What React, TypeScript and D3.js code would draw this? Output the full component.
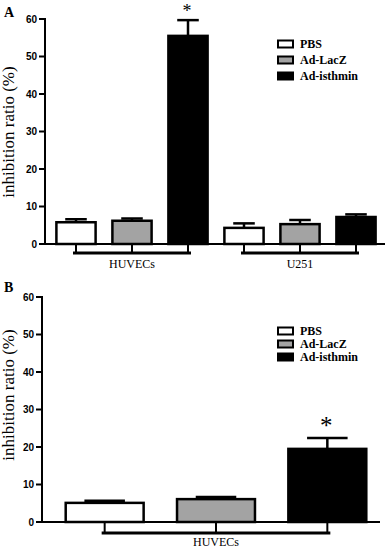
import React from 'react';
import * as d3 from 'd3';

// treatments shared by both panels
const treatments = ['PBS', 'Ad-LacZ', 'Ad-isthmin'];
const fills = ['#ffffff', '#a3a3a3', '#000000'];

// panel A: two cell lines
const groupsA = ['HUVECs', 'U251'];
const meansA = [
  [5.8, 6.2, 55.5],
  [4.3, 5.3, 7.2],
];
const errA = [
  [0.8, 0.6, 4.2],
  [1.2, 1.1, 0.7],
];
const starA = [[false, false, true], [false, false, false]];

// panel B: HUVECs only
const groupsB = ['HUVECs'];
const meansB = [[5.1, 6.1, 19.5]];
const errB = [[0.6, 0.6, 2.9]];
const starB = [[false, false, true]];

const yTicks = [0, 10, 20, 30, 40, 50, 60];

const serif = '"Liberation Serif", "Times New Roman", serif';
const sans = '"Liberation Sans", Arial, sans-serif';

type PanelProps = {
  letter: string;
  letterY: number;
  groups: string[];
  means: number[][];
  errs: number[][];
  stars: boolean[][];
  starSize: number;
  starDy: number;
  axisX: number;
  y0: number;
  y60: number;
  xEnd: number;
  xRange: [number, number];
  capFrac: number;
  bracketDrop: number;
  legendX: number;
  legendY: number;
  legendGap: number;
  labelY: number;
  titleMid: number;
};

function Panel(p: PanelProps) {
  const y = d3.scaleLinear().domain([0, 60]).range([p.y0, p.y60]);
  const keys: string[] = [];
  p.groups.forEach((g) => treatments.forEach((t) => keys.push(g + '|' + t)));
  const x = d3.scaleBand<string>().domain(keys).range(p.xRange).paddingInner(0.3).paddingOuter(0.15);
  const bw = x.bandwidth();
  const cx = (k: string) => (x(k) as number) + bw / 2;

  return (
    <g>
      <text x={4} y={p.letterY} fontFamily={serif} fontWeight="bold" fontSize={14}>{p.letter}</text>
      <text
        transform={`translate(14,${p.titleMid}) rotate(-90)`}
        textAnchor="middle"
        fontFamily={serif}
        fontSize={17}
      >inhibition ratio (%)</text>

      {/* y axis */}
      <line x1={p.axisX} x2={p.axisX} y1={p.y60 - 1} y2={p.y0} stroke="#000" strokeWidth={2} />
      {yTicks.map((t) => (
        <g key={t}>
          <line x1={p.axisX - 6} x2={p.axisX} y1={y(t)} y2={y(t)} stroke="#000" strokeWidth={2} />
          <text x={p.axisX - 8} y={y(t) + 3.5} textAnchor="end" fontFamily={sans} fontWeight="bold" fontSize={10}>{t}</text>
        </g>
      ))}

      {/* bars */}
      {p.groups.map((g, gi) =>
        treatments.map((t, ti) => {
          const k = g + '|' + t;
          const m = p.means[gi][ti];
          const e = p.errs[gi][ti];
          const cap = bw * p.capFrac;
          return (
            <g key={k}>
              <line x1={cx(k)} x2={cx(k)} y1={y(m)} y2={y(m + e)} stroke="#000" strokeWidth={2.5} />
              <line x1={cx(k) - cap / 2} x2={cx(k) + cap / 2} y1={y(m + e)} y2={y(m + e)} stroke="#000" strokeWidth={2.5} />
              <rect x={x(k)} y={y(m)} width={bw} height={p.y0 - y(m)} fill={fills[ti]} stroke="#000" strokeWidth={2.5} />
              {p.stars[gi][ti] && (
                <text x={cx(k) - 1} y={y(m + e) - p.starDy} textAnchor="middle" fontFamily={serif} fontSize={p.starSize}>*</text>
              )}
            </g>
          );
        })
      )}

      {/* x axis */}
      <line x1={p.axisX} x2={p.xEnd} y1={p.y0} y2={p.y0} stroke="#000" strokeWidth={2} />

      {/* group brackets */}
      {p.groups.map((g) => {
        const first = cx(g + '|' + treatments[0]);
        const last = cx(g + '|' + treatments[treatments.length - 1]);
        const by = p.y0 + p.bracketDrop;
        return (
          <g key={g}>
            {treatments.map((t) => (
              <line key={t} x1={cx(g + '|' + t)} x2={cx(g + '|' + t)} y1={p.y0} y2={by} stroke="#000" strokeWidth={2} />
            ))}
            <line x1={first - 3} x2={last + 3} y1={by} y2={by} stroke="#000" strokeWidth={3} />
            <text x={(first + last) / 2} y={p.labelY} textAnchor="middle" fontFamily={serif} fontSize={12}>{g}</text>
          </g>
        );
      })}

      {/* legend */}
      {treatments.map((t, i) => {
        const ly = p.legendY + i * p.legendGap;
        return (
          <g key={t}>
            <rect x={p.legendX} y={ly - 3.5} width={15} height={7} fill={fills[i]} stroke="#000" strokeWidth={2} />
            <text x={p.legendX + 22} y={ly + 4} fontFamily={serif} fontWeight="bold" fontSize={12}>{t}</text>
          </g>
        );
      })}
    </g>
  );
}

export default function App() {
  return (
    <div style={{ position: 'absolute', left: 0, top: 0 }}>
      <svg width={387} height={549} style={{ display: 'block', background: '#fff' }}>
        <Panel
          letter="A"
          letterY={17}
          groups={groupsA}
          means={meansA}
          errs={errA}
          stars={starA}
          starSize={18}
          starDy={3}
          axisX={45}
          y0={244}
          y60={19}
          xEnd={385}
          xRange={[48, 384]}
          capFrac={0.55}
          bracketDrop={9}
          legendX={278}
          legendY={44}
          legendGap={16}
          labelY={268}
          titleMid={132}
        />
        <Panel
          letter="B"
          letterY={292}
          groups={groupsB}
          means={meansB}
          errs={errB}
          stars={starB}
          starSize={25}
          starDy={4}
          axisX={42}
          y0={522}
          y60={297}
          xEnd={380}
          xRange={[49, 383]}
          capFrac={0.52}
          bracketDrop={11}
          legendX={278}
          legendY={331}
          legendGap={13}
          labelY={546}
          titleMid={395}
        />
      </svg>
    </div>
  );
}
